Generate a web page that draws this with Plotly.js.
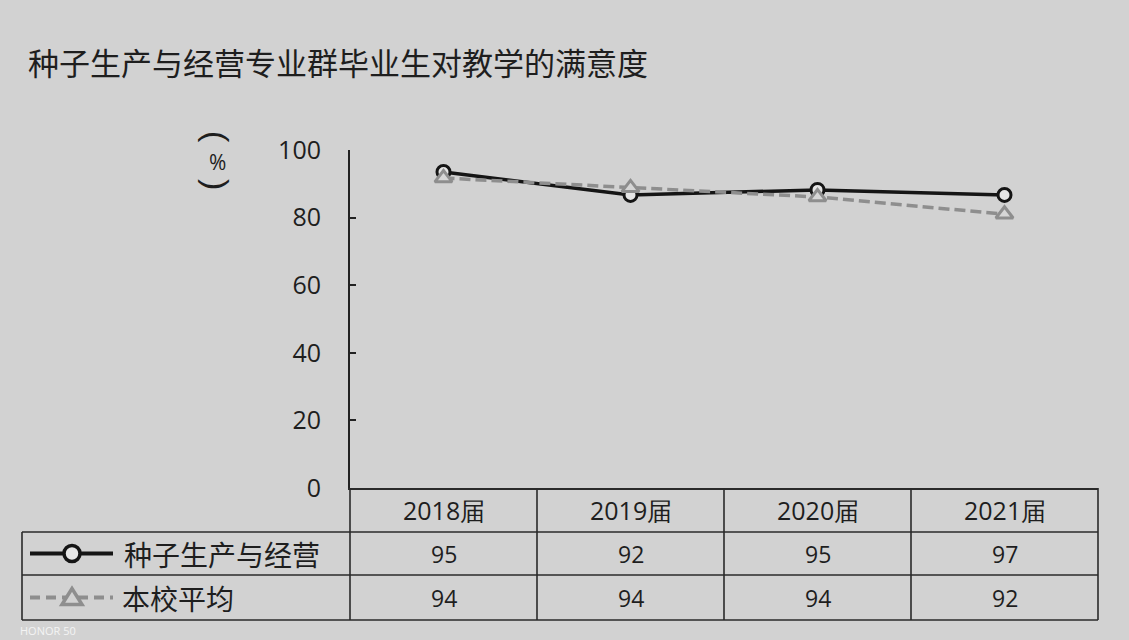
<!DOCTYPE html>
<html>
<head>
<meta charset="utf-8">
<script src="https://cdn.plot.ly/plotly-3.0.1.min.js"></script>
<style>html,body{margin:0;padding:0;background:#d2d2d2;}#chart{width:1129px;height:640px;}</style>
</head>
<body>
<div id="chart"></div>
<script>
// ---- data ----
var categories = ['2018届', '2019届', '2020届', '2021届'];
var seriesNames = ['种子生产与经营', '本校平均'];
// values as plotted by the lines in the picture
var plottedMajor = [93.5, 86.7, 88.2, 86.7];
var plottedSchool = [91.7, 88.8, 86.1, 81.0];
// values printed in the data table under the chart
var tableMajor = [95, 92, 95, 97];
var tableSchool = [94, 94, 94, 92];
var yTicks = [0, 20, 40, 60, 80, 100];

// ---- geometry helpers (pixel -> paper) ----
var W = 1129, H = 640;
var L = 350, R = 1098, T = 150, B = 488;
function px(x) { return (x - L) / (R - L); }
function py(y) { return (B - y) / (B - T); }

var ink = '#1e1e1e';
var cjk = '"Noto Sans CJK SC", "Noto Sans", sans-serif';
var num = '"Open Sans", "Noto Sans", sans-serif';

var traces = [
  {
    type: 'scatter', mode: 'lines+markers', name: seriesNames[0],
    x: categories, y: plottedMajor,
    line: {color: '#151515', width: 3.5},
    marker: {symbol: 'circle', size: 13, color: '#e6e6e6', line: {color: '#151515', width: 3}},
    showlegend: false, cliponaxis: false
  },
  {
    type: 'scatter', mode: 'lines+markers', name: seriesNames[1],
    x: categories, y: plottedSchool,
    line: {color: '#8e8e8e', width: 3.5, dash: '11px,5px'},
    marker: {symbol: 'triangle-up', size: 15, color: '#d6d6d6', line: {color: '#8e8e8e', width: 3}},
    showlegend: false, cliponaxis: false
  }
];

var lineStyle = {color: '#2a2a2a', width: 1.6};
var shapes = [];
function hline(y, x0, x1) {
  shapes.push({type: 'line', xref: 'paper', yref: 'paper', x0: px(x0), x1: px(x1), y0: py(y), y1: py(y), line: lineStyle});
}
function vline(x, y0, y1) {
  shapes.push({type: 'line', xref: 'paper', yref: 'paper', x0: px(x), x1: px(x), y0: py(y0), y1: py(y1), line: lineStyle});
}
var rowTop = 532, rowMid = 575, rowBot = 620, leftX = 22;
hline(rowTop, leftX, R);
hline(rowMid, leftX, R);
hline(rowBot, leftX, R);
vline(leftX, rowTop, rowBot);
vline(L, B, rowBot);
for (var i = 1; i <= categories.length; i++) {
  vline(L + (R - L) * i / categories.length, B, rowBot);
}

// legend keys inside the table
var row1 = (rowTop + rowMid) / 2, row2 = (rowMid + rowBot) / 2;
shapes.push({type: 'line', xref: 'paper', yref: 'paper', x0: px(30), x1: px(113), y0: py(row1), y1: py(row1), line: {color: '#151515', width: 4}});
shapes.push({type: 'circle', xref: 'paper', yref: 'paper', xsizemode: 'pixel', ysizemode: 'pixel',
  xanchor: px(72), yanchor: py(row1), x0: -8, x1: 8, y0: -8, y1: 8,
  fillcolor: '#e6e6e6', line: {color: '#151515', width: 3.5}});
shapes.push({type: 'line', xref: 'paper', yref: 'paper', x0: px(30), x1: px(113), y0: py(row2), y1: py(row2), line: {color: '#8e8e8e', width: 4, dash: '10px,6px'}});
shapes.push({type: 'path', xref: 'paper', yref: 'paper', xsizemode: 'pixel', ysizemode: 'pixel',
  xanchor: px(72), yanchor: py(row2), path: 'M-10,-7 L10,-7 L0,9 Z',
  fillcolor: '#d2d2d2', line: {color: '#8e8e8e', width: 3.5}});

var annotations = [];
categories.forEach(function (c, k) {
  annotations.push({xref: 'x', yref: 'paper', x: c, y: py(510), text: c, showarrow: false,
    font: {family: num, size: 25, color: ink}, xanchor: 'center', yanchor: 'middle'});
  annotations.push({xref: 'x', yref: 'paper', x: c, y: py(row1), text: String(tableMajor[k]), showarrow: false,
    font: {family: num, size: 23, color: ink}, xanchor: 'center', yanchor: 'middle'});
  annotations.push({xref: 'x', yref: 'paper', x: c, y: py(row2), text: String(tableSchool[k]), showarrow: false,
    font: {family: num, size: 23, color: ink}, xanchor: 'center', yanchor: 'middle'});
});
annotations.push({xref: 'paper', yref: 'paper', x: px(122), y: py(row1), text: seriesNames[0], showarrow: false,
  font: {family: cjk, size: 28, color: ink}, xanchor: 'left', yanchor: 'middle'});
annotations.push({xref: 'paper', yref: 'paper', x: px(120), y: py(row2), text: seriesNames[1], showarrow: false,
  font: {family: cjk, size: 28, color: ink}, xanchor: 'left', yanchor: 'middle'});
// unit label: vertical "(%)" with the brackets turned sideways
annotations.push({xref: 'paper', yref: 'paper', x: px(217), y: py(137), text: '(', textangle: 90, showarrow: false,
  font: {family: '"Liberation Sans", sans-serif', size: 34, color: ink}, xanchor: 'center', yanchor: 'middle'});
annotations.push({xref: 'paper', yref: 'paper', x: px(217), y: py(162), text: '%', showarrow: false,
  font: {family: num, size: 21, color: ink}, xanchor: 'center', yanchor: 'middle'});
annotations.push({xref: 'paper', yref: 'paper', x: px(217), y: py(184), text: ')', textangle: 90, showarrow: false,
  font: {family: '"Liberation Sans", sans-serif', size: 34, color: ink}, xanchor: 'center', yanchor: 'middle'});
// camera watermark at the bottom-left corner
annotations.push({xref: 'paper', yref: 'paper', x: px(18), y: py(621), text: 'HONOR 50', showarrow: false,
  font: {family: num, size: 11, color: '#f4f4f4'}, xanchor: 'left', yanchor: 'top'});

var layout = {
  width: W, height: H,
  paper_bgcolor: '#d2d2d2', plot_bgcolor: 'rgba(0,0,0,0)',
  margin: {l: L, r: W - R, t: T, b: H - B, pad: 0},
  title: {
    text: '种子生产与经营专业群毕业生对教学的满意度',
    font: {family: cjk, size: 31, color: ink},
    xref: 'container', yref: 'container', x: 28 / W, xanchor: 'left', y: 1 - 64 / H, yanchor: 'middle'
  },
  xaxis: {
    type: 'category', range: [-0.5, categories.length - 0.5],
    showgrid: false, zeroline: false, showline: true, linecolor: '#2a2a2a', linewidth: 1.6,
    ticks: '', showticklabels: false, fixedrange: true
  },
  yaxis: {
    range: [0, 100], tickvals: yTicks, showgrid: false, zeroline: false,
    showline: true, linecolor: '#222', linewidth: 2,
    ticks: 'inside', ticklen: 6, tickwidth: 2, tickcolor: '#222',
    ticklabelstandoff: 22,
    tickfont: {family: num, size: 25, color: ink}, fixedrange: true
  },
  shapes: shapes,
  annotations: annotations,
  showlegend: false
};

Plotly.newPlot('chart', traces, layout, {displayModeBar: false, staticPlot: true});
</script>
</body>
</html>
